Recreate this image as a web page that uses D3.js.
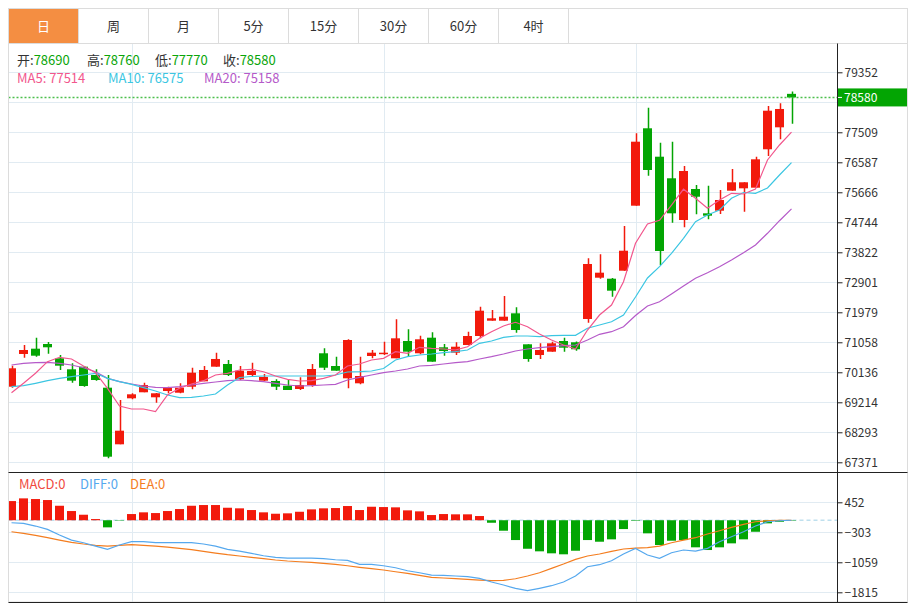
<!DOCTYPE html>
<html>
<head>
<meta charset="utf-8">
<script src="https://cdn.jsdelivr.net/npm/d3@7"></script>
<style>
body { margin: 0; background: #fff; }
svg { display: block; font-family: "Microsoft YaHei", "Noto Sans CJK SC", sans-serif; }
</style>
</head>
<body>
<div id="chart"></div>
<script>
////////////////////////////////////////////////////////////////
// Data

var tabs = ["日", "周", "月", "5分", "15分", "30分", "60分", "4时"];

var opens = [69693,70698,70861,71005,70566,70228,70308,70053,69663,67924,
  69337,69522,69368,69561,69509,69693,69859,70308,70391,69921,
  70053,69878,69869,69724,69623,69746,70720,70329,69951,69798,
  70637,70698,70566,71097,70720,71199,70904,70738,70975,71251,
  71721,71721,71948,70996,70667,70769,71097,71058,71773,73042,
  73011,73257,75254,77632,76759,76096,74815,75767,75020,75100,
  75715,75788,75807,76987,77662,78690];
var highs = [70339,70975,71199,71067,70667,70412,70320,70228,70053,69285,
  69490,69816,69500,69693,69798,70277,70329,70738,70514,70329,
  70431,70084,69921,69899,69982,70391,70873,70615,71150,70615,
  70821,71076,71764,71457,71260,71365,71005,71058,71383,72151,
  72050,72480,72133,70996,71027,71076,71199,71080,73638,73761,
  73033,74630,77478,78264,77189,77220,76473,75890,75868,75736,
  76381,75973,76759,78317,78400,78760];
var lows = [69663,70584,70615,70707,70207,69816,69690,69878,67494,67924,
  69310,69522,69202,69491,69491,69614,69859,70308,70022,69899,
  70022,69870,69592,69592,69592,69693,70207,70185,69644,69767,
  70566,70667,70566,70637,70690,70462,70646,70667,70975,71180,
  71721,71721,71352,70462,70545,70769,70769,70800,71660,73011,
  72458,73257,75254,76176,73432,74732,74590,74990,74836,75000,
  75715,75070,75807,76781,77294,77770];
var closes = [70259,70821,70646,70904,70339,69878,69715,69899,67543,68342,
  69460,69746,69491,69663,69663,70124,70207,70545,70053,70185,
  70176,69992,69693,69592,69746,70237,70277,70185,71128,70022,
  70738,70738,71180,70769,71150,70462,70790,70922,71251,72028,
  71795,71844,71435,70545,70821,71027,70892,70843,73463,73196,
  72643,73871,77220,76351,73862,75020,76320,75530,74947,75429,
  75973,75973,76679,78172,78225,78580];

var ma5 = [69509,69798,70105,70462,70597,70545,70329,70124,69644,69101,
  69009,69009,68926,69439,69644,69777,69878,70053,70105,70207,
  70228,70154,70022,69921,69869,69878,69951,70053,70329,70391,
  70514,70566,70769,70720,70904,70873,70852,70821,70922,71180,
  71383,71558,71672,71537,71313,71128,70975,70852,71435,71896,
  72203,72919,74099,74692,74805,75275,75761,75481,75174,75429,
  75635,75613,75767,76658,77119,77514];
var ma10 = [69693,69724,69798,69878,69951,70001,70053,70105,69951,69847,
  69767,69663,69561,69439,69356,69368,69408,69469,69746,69976,
  70007,70022,70022,70022,70022,70022,70022,70053,70145,70154,
  70176,70253,70514,70615,70667,70698,70738,70769,70821,71027,
  71097,71211,71251,71251,71230,71260,71273,71273,71488,71589,
  71690,71896,72449,73033,73380,73792,74252,74762,74968,75122,
  75481,75659,75635,75798,76197,76575];
var ma20 = [70360,70412,70431,70443,70412,70360,70277,70154,69951,69847,
  69777,69715,69675,69663,69693,69746,69798,69838,69878,69899,
  69878,69847,69798,69746,69715,69724,69746,69767,69899,69982,
  70053,70124,70176,70237,70329,70351,70391,70431,70462,70545,
  70615,70698,70790,70852,70892,70922,70953,70975,71128,71303,
  71383,71537,71881,72173,72305,72541,72787,73023,73196,73380,
  73586,73810,74047,74406,74793,75158];

var macd = [483,551,534,509,365,232,139,30,-179,-10,
  156,199,181,232,282,365,383,383,315,300,
  257,199,164,174,214,274,300,307,358,257,
  340,332,325,249,224,131,156,149,149,106,
  -63,-264,-499,-718,-783,-833,-858,-768,-499,-541,
  -481,-222,-13,-330,-624,-516,-499,-682,-750,-682,
  -582,-481,-290,-78,-38,-10];
var diff = [-63,-78,-146,-229,-373,-499,-566,-650,-733,-624,
  -541,-541,-566,-566,-566,-566,-599,-650,-733,-776,
  -834,-894,-934,-952,-952,-952,-969,-995,-1010,-1110,
  -1110,-1146,-1196,-1272,-1322,-1380,-1389,-1405,-1422,-1463,
  -1556,-1632,-1715,-1775,-1715,-1649,-1556,-1405,-1171,-1120,
  -1020,-851,-708,-876,-960,-818,-750,-776,-708,-541,
  -415,-290,-146,-38,-13,0];
var dea = [-290,-330,-380,-440,-499,-557,-599,-633,-650,-633,
  -616,-633,-650,-675,-708,-742,-783,-826,-868,-901,
  -934,-969,-1002,-1027,-1045,-1060,-1085,-1110,-1146,-1186,
  -1221,-1254,-1297,-1337,-1387,-1438,-1455,-1473,-1488,-1506,
  -1523,-1515,-1473,-1405,-1322,-1211,-1103,-985,-901,-851,
  -783,-725,-700,-692,-650,-566,-499,-440,-347,-264,
  -179,-103,-38,-13,0,0];

// 78430 sits under the current-price tag, so only its grid line is drawn
var priceTicks = [67371,68293,69214,70136,71058,71979,72901,73822,74744,75666,76587,77509,78430,79352];
var priceLabels = [67371,68293,69214,70136,71058,71979,72901,73822,74744,75666,76587,77509,79352];
var macdTicks = [452,-303,-1059,-1815];
var monthStarts = [10, 31, 52];

////////////////////////////////////////////////////////////////
// Basic parameters

var svgWidth = 913, svgHeight = 606;
var left = 8.5, axisX = 837, right = 907.5;
var tabTop = 8.5, tabBottom = 43.5, tabW = 70;
var mainTop = 43.5, mainBottom = 472.5, macdBottom = 602;

var upColor = "#f21a0c", downColor = "#03a503";
var gridColor = "#e1ebf2";
var n = closes.length;

var svg = d3.select("#chart")
  .append("svg")
  .attr("width", svgWidth)
  .attr("height", svgHeight);

// scales
var x = d3.scaleBand()
  .domain(d3.range(n))
  .range([5.5, 797.5])
  .paddingInner(0.25)
  .paddingOuter(0.125);
var cx = i => x(i) + x.bandwidth() / 2;

var yPrice = d3.scaleLinear().domain([67371, 79352]).range([462.3, 72.3]);
var yMacd = d3.scaleLinear().domain([-1815, 452]).range([592.3, 502.3]);

// clip
var defs = svg.append("defs");
defs.append("clipPath").attr("id", "clipMain")
  .append("rect").attr("x", left).attr("y", mainTop).attr("width", axisX - left).attr("height", mainBottom - mainTop);
defs.append("clipPath").attr("id", "clipMacd")
  .append("rect").attr("x", left).attr("y", mainBottom).attr("width", axisX - left).attr("height", macdBottom - mainBottom);

////////////////////////////////////////////////////////////////
// Grid

var grid = svg.append("g");
grid.selectAll(".hp").data(priceTicks).enter().append("line")
  .attr("x1", left).attr("x2", axisX)
  .attr("y1", d => Math.round(yPrice(d)) + 0.5).attr("y2", d => Math.round(yPrice(d)) + 0.5)
  .attr("stroke", gridColor);
grid.selectAll(".hm").data(macdTicks).enter().append("line")
  .attr("x1", left).attr("x2", axisX)
  .attr("y1", d => Math.round(yMacd(d)) + 0.5).attr("y2", d => Math.round(yMacd(d)) + 0.5)
  .attr("stroke", gridColor);
grid.selectAll(".v").data(monthStarts).enter().append("line")
  .attr("x1", d => Math.round(cx(d)) + 0.5).attr("x2", d => Math.round(cx(d)) + 0.5)
  .attr("y1", mainTop).attr("y2", macdBottom)
  .attr("stroke", gridColor);

// MACD zero line
svg.append("line")
  .attr("x1", left).attr("x2", axisX)
  .attr("y1", yMacd(0)).attr("y2", yMacd(0))
  .attr("stroke", "#bfe0ee").attr("stroke-width", 1.5)
  .attr("stroke-dasharray", "4,3");

////////////////////////////////////////////////////////////////
// Candles

var main = svg.append("g").attr("clip-path", "url(#clipMain)");
var candles = main.selectAll(".c").data(d3.range(n)).enter().append("g");
candles.append("line")
  .attr("x1", i => Math.round(cx(i)) + 0.5).attr("x2", i => Math.round(cx(i)) + 0.5)
  .attr("y1", i => yPrice(highs[i])).attr("y2", i => yPrice(lows[i]))
  .attr("stroke", i => closes[i] >= opens[i] ? upColor : downColor)
  .attr("stroke-width", 1.5);
candles.append("rect")
  .attr("x", i => x(i))
  .attr("width", x.bandwidth())
  .attr("y", i => yPrice(Math.max(opens[i], closes[i])))
  .attr("height", i => Math.max(1.5, Math.abs(yPrice(opens[i]) - yPrice(closes[i]))))
  .attr("fill", i => closes[i] >= opens[i] ? upColor : downColor);

// MA lines
var maLine = arr => d3.line().x((d, i) => cx(i)).y(d => yPrice(d))(arr);
[[ma20, "#b55ac9"], [ma10, "#3cc6e2"], [ma5, "#f2578d"]].forEach(function (m) {
  main.append("path").attr("d", maLine(m[0]))
    .attr("fill", "none").attr("stroke", m[1]).attr("stroke-width", 1.2);
});

// current price line
var last = closes[n - 1];
svg.append("line")
  .attr("x1", left).attr("x2", axisX)
  .attr("y1", yPrice(last)).attr("y2", yPrice(last))
  .attr("stroke", "#4cbf4c").attr("stroke-width", 1.5)
  .attr("stroke-dasharray", "2,2");

////////////////////////////////////////////////////////////////
// MACD

var sub = svg.append("g").attr("clip-path", "url(#clipMacd)");
sub.selectAll(".b").data(macd).enter().append("rect")
  .attr("x", (d, i) => x(i))
  .attr("width", x.bandwidth())
  .attr("y", d => yMacd(Math.max(0, d)))
  .attr("height", d => Math.abs(yMacd(d) - yMacd(0)))
  .attr("fill", d => d >= 0 ? upColor : downColor);

var macdLine = arr => d3.line().x((d, i) => cx(i)).y(d => yMacd(d))(arr);
sub.append("path").attr("d", macdLine(dea))
  .attr("fill", "none").attr("stroke", "#f47d1f").attr("stroke-width", 1.2);
sub.append("path").attr("d", macdLine(diff))
  .attr("fill", "none").attr("stroke", "#55a8ee").attr("stroke-width", 1.2);

////////////////////////////////////////////////////////////////
// Frame and axes

svg.append("rect")
  .attr("x", left).attr("y", tabTop)
  .attr("width", right - left).attr("height", macdBottom - tabTop)
  .attr("fill", "none").attr("stroke", "#dcdcdc");
svg.append("line").attr("x1", left).attr("x2", right).attr("y1", tabBottom).attr("y2", tabBottom).attr("stroke", "#dcdcdc");
svg.append("line").attr("x1", left).attr("x2", right).attr("y1", mainBottom).attr("y2", mainBottom).attr("stroke", "#222");
svg.append("line").attr("x1", left).attr("x2", right).attr("y1", macdBottom + 0.5).attr("y2", macdBottom + 0.5).attr("stroke", "#222");
svg.append("line").attr("x1", axisX + 0.5).attr("x2", axisX + 0.5).attr("y1", mainTop).attr("y2", macdBottom).attr("stroke", "#222");

var priceAxis = d3.axisRight(yPrice).tickValues(priceLabels).tickSize(5).tickPadding(2).tickFormat(d3.format("d"));
var macdAxis = d3.axisRight(yMacd).tickValues(macdTicks).tickSize(5).tickPadding(2).tickFormat(d3.format("d"));
[priceAxis, macdAxis].forEach(function (ax) {
  var g = svg.append("g").attr("transform", `translate(${axisX + 0.5},0)`).call(ax);
  g.select(".domain").remove();
  g.selectAll("line").attr("stroke", "#222");
  g.selectAll("text").attr("fill", "#333").style("font-size", "12px")
    .style("font-family", "'Microsoft YaHei','Noto Sans CJK SC',sans-serif");
});

// current price tag
var tagY = yPrice(last);
svg.append("rect").attr("x", axisX + 1).attr("y", tagY - 9).attr("width", right - axisX - 1.5).attr("height", 18).attr("fill", "#03a503");
svg.append("line").attr("x1", axisX + 1).attr("x2", axisX + 5).attr("y1", tagY).attr("y2", tagY).attr("stroke", "#fff");
svg.append("text").attr("x", axisX + 7).attr("y", tagY).attr("dy", "0.35em")
  .attr("fill", "#fff").style("font-size", "12px").text(last);

////////////////////////////////////////////////////////////////
// Tabs

var tabG = svg.append("g");
tabG.selectAll("rect").data(tabs).enter().append("rect")
  .attr("x", (d, i) => left + i * tabW).attr("y", tabTop)
  .attr("width", tabW).attr("height", tabBottom - tabTop)
  .attr("fill", (d, i) => i === 0 ? "#f48e42" : "#fff")
  .attr("stroke", "#dcdcdc");
tabG.selectAll("text").data(tabs).enter().append("text")
  .attr("x", (d, i) => left + i * tabW + tabW / 2).attr("y", 26).attr("dy", "0.35em")
  .attr("text-anchor", "middle")
  .attr("fill", (d, i) => i === 0 ? "#fff" : "#333")
  .style("font-size", "13px")
  .text(d => d);

////////////////////////////////////////////////////////////////
// Legends

var ohlc = [["开", opens[n - 1], 17], ["高", highs[n - 1], 87], ["低", lows[n - 1], 155], ["收", closes[n - 1], 223]];
var lg = svg.append("g").style("font-size", "13px");
ohlc.forEach(function (o) {
  var t = lg.append("text").attr("x", o[2]).attr("y", 60).attr("dy", "0.35em");
  t.append("tspan").attr("fill", "#333").text(o[0] + ":");
  t.append("tspan").attr("fill", "#0aa50a").text(o[1]);
});
var maLegend = [["MA5: " + ma5[n - 1], 17, "#f2578d"], ["MA10: " + ma10[n - 1], 108, "#3cc6e2"], ["MA20: " + ma20[n - 1], 204, "#b55ac9"]];
maLegend.forEach(function (m) {
  lg.append("text").attr("x", m[1]).attr("y", 78).attr("dy", "0.35em").attr("fill", m[2]).text(m[0]);
});

var macdLegend = [["MACD:0", 19, "#f04a3e"], ["DIFF:0", 80, "#55a8ee"], ["DEA:0", 130, "#f47d1f"]];
macdLegend.forEach(function (m) {
  lg.append("text").attr("x", m[1]).attr("y", 484).attr("dy", "0.35em").attr("fill", m[2]).text(m[0]);
});
</script>
</body>
</html>
